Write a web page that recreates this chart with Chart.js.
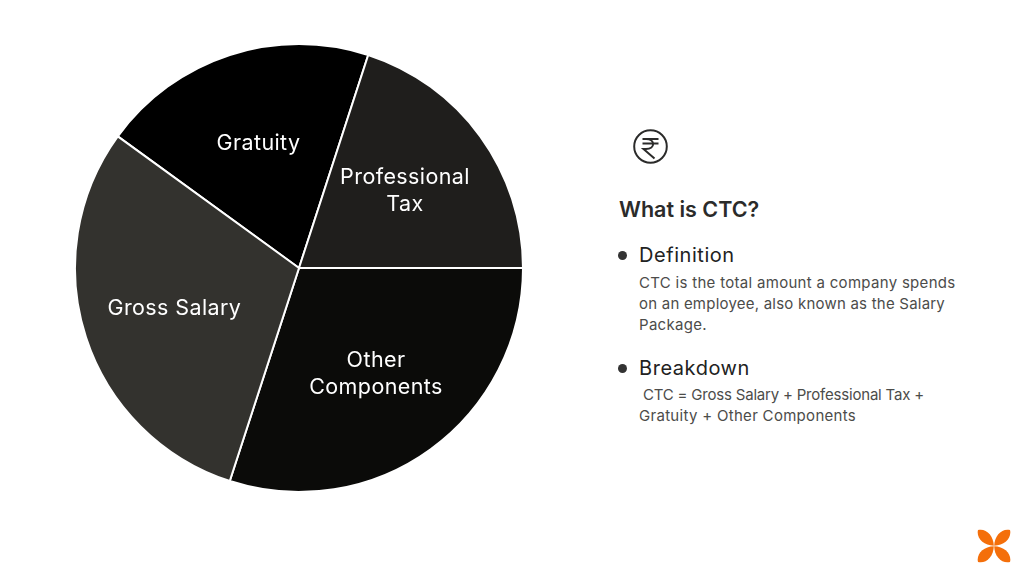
<!DOCTYPE html>
<html>
<head>
<meta charset="utf-8">
<title>What is CTC?</title>
<script src="https://cdn.jsdelivr.net/npm/chart.js@4"></script>
<style>
    html, body { margin: 0; padding: 0; background: #fff; }
    body { width: 1024px; height: 576px; position: relative; overflow: hidden; font-family: Inter, sans-serif; }
    #pie-box { position: absolute; left: 74px; top: 43px; width: 450px; height: 450px; }
    .txt { position: absolute; white-space: pre; }
    .title { left: 619px; top: 196px; font-size: 21.5px; line-height: 26px; font-weight: 600; color: #2b2b2a; }
    .head { left: 639px; font-size: 20px; line-height: 24px; letter-spacing: 0.55px; color: #222; }
    .body { left: 639px; font-size: 15px; line-height: 21px; letter-spacing: 0.3px; color: #4c4c4a; }
    .dot { position: absolute; left: 618px; width: 9px; height: 9px; border-radius: 50%; background: #333; }
    svg { position: absolute; }
</style>
</head>
<body>
<div id="pie-box"><canvas id="ctcPie"></canvas></div>

<svg style="left:632px;top:128px" width="37" height="37" viewBox="0 0 37 37" fill="none" stroke="#2b2b2a">
    <circle cx="18.5" cy="18.5" r="16.3" stroke-width="2"/>
    <path d="M10.5 11h16M10.5 15.5h16M14 11c9.5 0 9.5 10 0 10h-2.5l11 9.5" stroke-width="2"/>
</svg>

<div class="txt title">What is CTC?</div>
<div class="dot" style="top:251px"></div>
<div class="txt head" style="top:243px">Definition</div>
<div class="txt body" style="top:272px">CTC is the total amount a company spends
<span style="letter-spacing:0.22px">on an employee, also known as the Salary</span>
Package.</div>
<div class="dot" style="top:364px"></div>
<div class="txt head" style="top:356px">Breakdown</div>
<div class="txt body" style="top:385px;line-height:20.5px"><span style="letter-spacing:-0.2px"> CTC = Gross Salary + Professional Tax +</span>
Gratuity + Other Components</div>

<svg style="left:977px;top:529px" width="34" height="34" viewBox="0 0 34 34" fill="#f46f0b">
    <defs><path id="petal" d="M1 1C9-1 16.600 6.500 16.800 16.800C6.500 16.600-1 9 1 1z"/></defs>
    <use href="#petal"/>
    <use href="#petal" transform="translate(34 0) scale(-1 1)"/>
    <use href="#petal" transform="translate(0 34) scale(1 -1)"/>
    <use href="#petal" transform="translate(34 34) scale(-1 -1)"/>
</svg>

<script>
// Chart data, starting from the slice at the top left
const categories = ['Gratuity', 'Professional\nTax', 'Other\nComponents', 'Gross Salary'];
const shares = [20, 20, 30, 30];
const sliceColors = ['#000000', '#1f1e1c', '#0b0b09', '#33322e'];

// Draws the slice names inside the pie, a bit past the middle of the radius
const sliceLabels = {
    id: 'sliceLabels',
    afterDatasetsDraw(chart) {
        const ctx = chart.ctx;
        ctx.save();
        ctx.font = '400 21.5px Inter, sans-serif';
        ctx.letterSpacing = '0.4px';
        ctx.fillStyle = '#ffffff';
        ctx.textAlign = 'center';
        ctx.textBaseline = 'middle';
        chart.getDatasetMeta(0).data.forEach((arc, i) => {
            const mid = (arc.startAngle + arc.endAngle) / 2;
            const r = arc.outerRadius * 0.585;
            const lines = categories[i].split('\n');
            lines.forEach((line, n) => {
                const y = arc.y + Math.sin(mid) * r + (n - (lines.length - 1) / 2) * 27 + 0.5;
                ctx.fillText(line, arc.x + Math.cos(mid) * r, y);
            });
        });
        ctx.restore();
    }
};

new Chart(document.getElementById('ctcPie'), {
    type: 'pie',
    data: {
        labels: categories,
        datasets: [{
            data: shares,
            backgroundColor: sliceColors,
            borderColor: '#ffffff',
            borderWidth: 2
        }]
    },
    options: {
        responsive: true,
        maintainAspectRatio: false,
        animation: false,
        rotation: -54,
        plugins: {
            legend: { display: false },
            tooltip: { enabled: false }
        }
    },
    plugins: [sliceLabels]
});
</script>
</body>
</html>
